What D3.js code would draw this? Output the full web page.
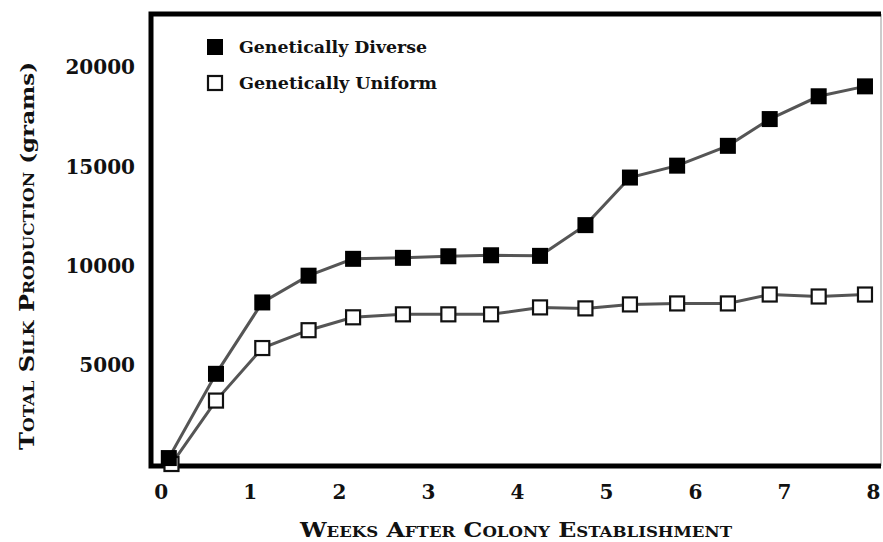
<!DOCTYPE html>
<html>
<head>
<meta charset="utf-8">
<script src="https://cdn.jsdelivr.net/npm/d3@7"></script>
<style>
  body { margin: 0; background: #fff; }
  text { font-family: "DejaVu Serif", serif; font-weight: bold; fill: #111; }
</style>
</head>
<body>
<div id="chart"></div>
<script>
// data
var weeks = [0.09, 0.62, 1.14, 1.66, 2.16, 2.72, 3.23, 3.71, 4.26, 4.77, 5.27, 5.80, 6.37, 6.84, 7.39, 7.91];
var weeksUniform = [0.12, 0.62, 1.14, 1.66, 2.16, 2.72, 3.23, 3.71, 4.26, 4.77, 5.27, 5.80, 6.37, 6.84, 7.39, 7.91];
var diverse = [300, 4550, 8150, 9500, 10350, 10400, 10480, 10530, 10500, 12050, 14450, 15050, 16050, 17400, 18550, 19050];
var uniform = [0, 3200, 5850, 6750, 7400, 7550, 7550, 7550, 7900, 7850, 8050, 8100, 8100, 8550, 8450, 8550];
var xTicks = [0, 1, 2, 3, 4, 5, 6, 7, 8];
var yTicks = [5000, 10000, 15000, 20000];
var seriesNames = ["Genetically Diverse", "Genetically Uniform"];

// plot frame in pixels
var W = 883, H = 542;
var pLeft = 151, pRight = 881, pTop = 14, pBottom = 466;

var svg = d3.select("#chart")
  .append("svg")
  .attr("width", W)
  .attr("height", H);

var x = d3.scaleLinear().domain([-0.11, 8.09]).range([pLeft, pRight]);
var y = d3.scaleLinear().domain([-100, 22700]).range([pBottom, pTop]);

// axes (labels only, frame is drawn by hand)
var xAxis = svg.append("g")
  .attr("transform", "translate(0," + pBottom + ")")
  .call(d3.axisBottom(x).tickValues(xTicks).tickSize(0).tickPadding(19).tickFormat(d3.format("d")));
xAxis.select(".domain").remove();
xAxis.selectAll("text").style("font-size", "20px").attr("font-family", null);

var yAxis = svg.append("g")
  .attr("transform", "translate(" + pLeft + ",0)")
  .call(d3.axisLeft(y).tickValues(yTicks).tickSize(0).tickPadding(16).tickFormat(d3.format("d")));
yAxis.select(".domain").remove();
yAxis.selectAll("text").style("font-size", "20px").attr("font-family", null);

// frame
svg.append("line").attr("x1", pRight).attr("x2", pRight).attr("y1", pTop).attr("y2", pBottom)
  .attr("stroke", "#bbb").attr("stroke-width", 1.5);
svg.append("path")
  .attr("d", "M" + pRight + "," + pTop + "H" + pLeft + "V" + pBottom + "H" + pRight)
  .attr("fill", "none").attr("stroke", "#000").attr("stroke-width", 5);

// lines
var lineD = d3.line()
  .x(function(d) { return x(d[0]); })
  .y(function(d) { return y(d[1]); });

var uniPts = d3.zip(weeksUniform, uniform);
var divPts = d3.zip(weeks, diverse);

svg.append("path").datum(uniPts).attr("d", lineD)
  .attr("fill", "none").attr("stroke", "#555").attr("stroke-width", 3);
svg.append("path").datum(divPts).attr("d", lineD)
  .attr("fill", "none").attr("stroke", "#555").attr("stroke-width", 3);

// markers
var s = 14;
svg.selectAll(".uni").data(uniPts).enter().append("rect")
  .attr("class", "uni")
  .attr("x", function(d) { return x(d[0]) - s / 2; })
  .attr("y", function(d) { return y(d[1]) - s / 2; })
  .attr("width", s).attr("height", s)
  .attr("fill", "#fff").attr("stroke", "#111").attr("stroke-width", 2.2);

svg.selectAll(".div").data(divPts).enter().append("rect")
  .attr("class", "div")
  .attr("x", function(d) { return x(d[0]) - (s + 2) / 2; })
  .attr("y", function(d) { return y(d[1]) - (s + 2) / 2; })
  .attr("width", s + 2).attr("height", s + 2)
  .attr("fill", "#000");

// legend
svg.append("rect").attr("x", 207).attr("y", 39).attr("width", 16).attr("height", 16).attr("fill", "#000");
svg.append("rect").attr("x", 208).attr("y", 76).attr("width", 14).attr("height", 14)
  .attr("fill", "#fff").attr("stroke", "#111").attr("stroke-width", 2.2);
svg.append("text").attr("x", 239).attr("y", 53).text(seriesNames[0])
  .style("font-size", "16px").attr("textLength", 188).attr("lengthAdjust", "spacingAndGlyphs");
svg.append("text").attr("x", 239).attr("y", 89).text(seriesNames[1])
  .style("font-size", "16px").attr("textLength", 198).attr("lengthAdjust", "spacingAndGlyphs");

// axis titles
svg.append("text")
  .attr("x", (pLeft + pRight) / 2).attr("y", 537)
  .attr("text-anchor", "middle")
  .attr("textLength", 432).attr("lengthAdjust", "spacingAndGlyphs")
  .style("font-size", "20px").style("font-variant", "small-caps")
  .text("Weeks After Colony Establishment");

var yTitle = svg.append("text")
  .attr("transform", "translate(34,256) rotate(-90)")
  .attr("text-anchor", "middle")
  .attr("textLength", 388).attr("lengthAdjust", "spacingAndGlyphs")
  .style("font-size", "20px");
yTitle.append("tspan").style("font-variant", "small-caps").text("Total Silk Production");
yTitle.append("tspan").style("font-size", "19px").text(" (grams)");
</script>
</body>
</html>
